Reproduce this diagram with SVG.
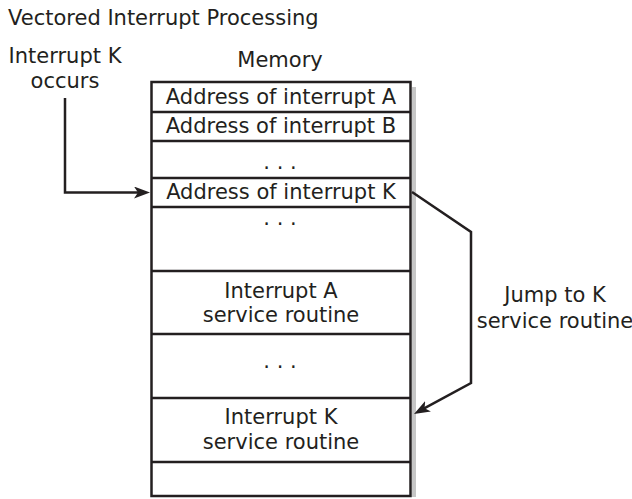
<svg xmlns="http://www.w3.org/2000/svg" width="632" height="499" viewBox="0 0 632 499">
  <style>
    text { font-family: "DejaVu Sans", "Liberation Sans", sans-serif; font-size: 21px; fill: #231f20; }
    .c { text-anchor: middle; }
    .ln { stroke: #231f20; stroke-width: 2.5; fill: none; }
    .conn { stroke: #231f20; stroke-width: 2.5; fill: none; stroke-linejoin: miter; }
  </style>
  <defs>
    <marker id="arrow" markerUnits="userSpaceOnUse" viewBox="-16 -6 16 12" markerWidth="16" markerHeight="12" refX="-10" refY="0" orient="auto">
      <path d="M0,0 L-16,-6 L-12,0 L-16,6 Z" fill="#231f20"/>
    </marker>
  </defs>
  <rect width="632" height="499" fill="#ffffff"/>

  <text id="title" x="8" y="25">Vectored Interrupt Processing</text>

  <g id="interrupt-k-label">
    <text class="c" x="65" y="63">Interrupt K</text>
    <text class="c" x="65" y="88">occurs</text>
  </g>

  <g id="memory">
    <text class="c" x="280" y="67">Memory</text>
    <rect x="412" y="87" width="4" height="410" fill="#c6c6c6"/>
    <rect class="ln" x="151.5" y="82" width="259" height="414" fill="#ffffff"/>
    <line class="ln" x1="151.5" y1="112" x2="410.5" y2="112"/>
    <line class="ln" x1="151.5" y1="141" x2="410.5" y2="141"/>
    <line class="ln" x1="151.5" y1="178" x2="410.5" y2="178"/>
    <line class="ln" x1="151.5" y1="207" x2="410.5" y2="207"/>
    <line class="ln" x1="151.5" y1="271" x2="410.5" y2="271"/>
    <line class="ln" x1="151.5" y1="334" x2="410.5" y2="334"/>
    <line class="ln" x1="151.5" y1="398" x2="410.5" y2="398"/>
    <line class="ln" x1="151.5" y1="462" x2="410.5" y2="462"/>
  </g>

  <g id="addr-a"><text class="c" x="281" y="104">Address of interrupt A</text></g>
  <g id="addr-b"><text class="c" x="281" y="133">Address of interrupt B</text></g>
  <g id="dots-1"><text class="c" x="280" y="169">. . .</text></g>
  <g id="addr-k"><text class="c" x="281" y="199">Address of interrupt K</text></g>
  <g id="dots-2"><text class="c" x="280" y="225">. . .</text></g>
  <g id="isr-a">
    <text class="c" x="281" y="298">Interrupt A</text>
    <text class="c" x="281" y="322">service routine</text>
  </g>
  <g id="dots-3"><text class="c" x="280" y="368">. . .</text></g>
  <g id="isr-k">
    <text class="c" x="281" y="424">Interrupt K</text>
    <text class="c" x="281" y="449">service routine</text>
  </g>

  <g id="jump-label">
    <text class="c" x="555" y="302">Jump to K</text>
    <text class="c" x="555" y="328">service routine</text>
  </g>

  <g id="connectors">
    <path class="conn" d="M65,98 L65,192.5 L140,192.5" marker-end="url(#arrow)"/>
    <path class="conn" d="M412,192 L471,232 L471,383 L422.8,409.2" marker-end="url(#arrow)"/>
  </g>
</svg>
